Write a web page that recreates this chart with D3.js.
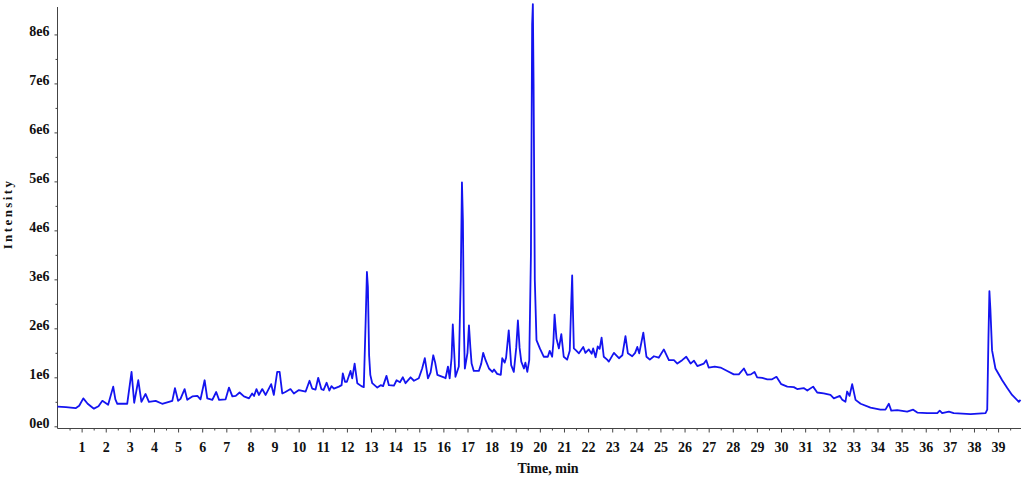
<!DOCTYPE html>
<meta charset="utf-8">
<style>
  body { margin: 0; background: #fff; }
  text { font-family: "Liberation Serif", "Times New Roman", serif; font-weight: bold; fill: #111; }
</style>
<svg width="1024" height="478"></svg>
<script src="https://d3js.org/d3.v7.min.js"></script>
<script>
// retention time (min)
const times = [
  0.00, 0.35, 0.75, 0.90, 1.07, 1.25, 1.51, 1.70, 1.86, 2.10, 2.31, 2.40, 2.48, 2.89, 3.07, 3.18, 3.35, 3.48, 3.65, 3.79,
  4.07, 4.34, 4.76, 4.87, 5.00, 5.10, 5.27, 5.38, 5.59, 5.80, 5.93, 6.10, 6.21, 6.42, 6.58, 6.70, 6.97, 7.11, 7.25, 7.39,
  7.55, 7.73, 7.94, 8.07, 8.15, 8.25, 8.35, 8.49, 8.63, 8.86, 8.97, 9.11, 9.21, 9.32, 9.45, 9.66, 9.80, 10.01, 10.29, 10.45,
  10.56, 10.70, 10.81, 10.94, 11.03, 11.16, 11.27, 11.36, 11.46, 11.67, 11.78, 11.83, 11.92, 12.00, 12.15, 12.22, 12.32, 12.43, 12.60, 12.70,
  12.78, 12.83, 12.87, 12.92, 12.97, 13.05, 13.26, 13.40, 13.50, 13.64, 13.74, 13.95, 14.06, 14.20, 14.32, 14.43, 14.64, 14.78, 14.98, 15.12,
  15.23, 15.36, 15.47, 15.58, 15.66, 15.75, 16.02, 16.09, 16.19, 16.26, 16.34, 16.39, 16.44, 16.50, 16.64, 16.72, 16.77, 16.81, 16.85, 16.89,
  17.00, 17.06, 17.12, 17.17, 17.26, 17.47, 17.57, 17.65, 17.75, 17.89, 18.03, 18.10, 18.23, 18.38, 18.44, 18.54, 18.60, 18.71, 18.81, 18.92,
  19.02, 19.09, 19.16, 19.23, 19.34, 19.40, 19.48, 19.56, 19.63, 19.68, 19.71, 19.74, 19.79, 19.86, 20.00, 20.16, 20.33, 20.41, 20.51, 20.56,
  20.61, 20.69, 20.79, 20.89, 20.99, 21.13, 21.24, 21.30, 21.34, 21.37, 21.41, 21.50, 21.62, 21.80, 21.89, 22.03, 22.15, 22.21, 22.31, 22.40,
  22.48, 22.56, 22.65, 22.79, 22.86, 23.07, 23.28, 23.42, 23.55, 23.65, 23.83, 23.95, 24.04, 24.12, 24.29, 24.42, 24.56, 24.73, 24.93, 25.14,
  25.35, 25.56, 25.70, 25.90, 26.07, 26.25, 26.39, 26.53, 26.80, 26.90, 27.00, 27.25, 27.49, 27.77, 28.04, 28.25, 28.46, 28.60, 28.75, 28.90,
  29.01, 29.22, 29.43, 29.63, 29.81, 30.01, 30.26, 30.53, 30.67, 30.94, 31.09, 31.33, 31.50, 31.77, 32.05, 32.19, 32.44, 32.54, 32.67, 32.74,
  32.84, 32.95, 33.09, 33.30, 33.71, 34.12, 34.33, 34.47, 34.57, 34.82, 35.23, 35.48, 35.65, 36.06, 36.48, 36.58, 36.68, 36.96, 37.16, 37.86,
  38.48, 38.55, 38.60, 38.64, 38.68, 38.75, 38.89, 39.17, 39.38, 39.58, 39.86, 39.93
];
// intensity, millions of counts
const intensity = [
  0.40, 0.39, 0.37, 0.42, 0.57, 0.46, 0.36, 0.41, 0.52, 0.44, 0.81, 0.55, 0.46, 0.46, 1.11, 0.48, 0.94, 0.50, 0.66, 0.50,
  0.52, 0.46, 0.52, 0.78, 0.52, 0.56, 0.76, 0.54, 0.61, 0.62, 0.55, 0.94, 0.57, 0.54, 0.70, 0.54, 0.55, 0.79, 0.61, 0.62,
  0.69, 0.61, 0.57, 0.67, 0.62, 0.76, 0.64, 0.76, 0.64, 0.86, 0.64, 1.11, 1.11, 0.67, 0.70, 0.76, 0.67, 0.74, 0.71, 0.93,
  0.77, 0.75, 0.99, 0.76, 0.74, 0.89, 0.73, 0.82, 0.77, 0.81, 0.84, 1.08, 0.91, 0.91, 1.13, 0.98, 1.28, 0.88, 0.82, 0.80,
  2.20, 3.15, 2.85, 1.45, 1.05, 0.88, 0.79, 0.84, 0.82, 1.03, 0.84, 0.83, 0.94, 0.90, 1.00, 0.88, 1.00, 0.93, 0.98, 1.18,
  1.39, 0.98, 1.10, 1.45, 1.30, 1.05, 1.00, 0.98, 1.22, 0.98, 1.40, 2.08, 1.60, 1.01, 1.22, 3.00, 4.98, 4.20, 2.00, 1.18,
  1.50, 2.06, 1.60, 1.28, 1.13, 1.13, 1.28, 1.50, 1.35, 1.18, 1.11, 1.16, 1.07, 1.05, 1.39, 1.30, 1.40, 1.96, 1.25, 1.11,
  1.60, 2.16, 1.60, 1.32, 1.18, 1.30, 1.11, 1.35, 3.50, 8.20, 8.62, 7.00, 3.00, 1.76, 1.59, 1.42, 1.42, 1.54, 1.42, 1.70,
  2.28, 1.79, 1.59, 1.88, 1.42, 1.36, 1.54, 2.50, 3.08, 2.40, 1.59, 1.55, 1.49, 1.62, 1.50, 1.57, 1.48, 1.59, 1.41, 1.63,
  1.58, 1.81, 1.42, 1.36, 1.32, 1.50, 1.39, 1.45, 1.84, 1.49, 1.43, 1.50, 1.62, 1.49, 1.91, 1.42, 1.36, 1.43, 1.40, 1.57,
  1.35, 1.35, 1.28, 1.35, 1.42, 1.28, 1.34, 1.23, 1.28, 1.35, 1.20, 1.22, 1.20, 1.13, 1.06, 1.06, 1.18, 1.05, 1.06, 1.11,
  1.00, 0.99, 0.96, 0.96, 1.01, 0.86, 0.81, 0.80, 0.76, 0.78, 0.73, 0.81, 0.69, 0.67, 0.64, 0.57, 0.62, 0.54, 0.50, 0.71,
  0.62, 0.86, 0.54, 0.46, 0.38, 0.34, 0.34, 0.46, 0.32, 0.33, 0.30, 0.34, 0.28, 0.27, 0.27, 0.32, 0.27, 0.30, 0.27, 0.25,
  0.27, 0.34, 1.80, 2.76, 2.40, 1.55, 1.18, 0.94, 0.78, 0.64, 0.50, 0.54
];
const yTicks = [0, 1e6, 2e6, 3e6, 4e6, 5e6, 6e6, 7e6, 8e6];
const yTickLabels = ["0e0", "1e6", "2e6", "3e6", "4e6", "5e6", "6e6", "7e6", "8e6"];
const xTicks = d3.range(1, 40);

const svg = d3.select("svg");
const x = d3.scaleLinear().domain([0, 39.95]).range([57.5, 1021]);
const y = d3.scaleLinear().domain([0, 8.56e6]).range([426.3, 7]);
const axisY = 428.5;

const pts = times.map((t, i) => [t, intensity[i] * 1e6]);

// axes
const gx = svg.append("g").attr("transform", `translate(0,${axisY})`);
gx.call(d3.axisBottom(x).tickValues(d3.range(0.5, 40, 0.5).filter(v => v % 1 !== 0)).tickSize(2).tickFormat(""));
gx.call(g => g.select(".domain").remove());
const gx2 = svg.append("g").attr("transform", `translate(0,${axisY})`);
gx2.call(d3.axisBottom(x).tickValues(xTicks).tickSize(4).tickPadding(9).tickFormat(d3.format("d")));
gx2.select(".domain").remove();
gx2.selectAll("text").attr("font-size", 14).attr("font-family", null).attr("dy", "0.75em");

const gy = svg.append("g").attr("transform", "translate(57.5,0)");
gy.call(d3.axisLeft(y).tickValues(d3.range(0.5e6, 8.5e6, 1e6)).tickSize(2).tickFormat(""));
gy.select(".domain").remove();
const gy2 = svg.append("g").attr("transform", "translate(57.5,0)");
gy2.call(d3.axisLeft(y).tickValues(yTicks).tickSize(3).tickPadding(5).tickFormat((d, i) => yTickLabels[i]));
gy2.select(".domain").remove();
gy2.selectAll("text").attr("font-size", 14).attr("font-family", null).attr("dy", "0.05em");

svg.selectAll(".tick line").attr("stroke", "#444");

svg.append("line").attr("x1", 57.5).attr("x2", 57.5).attr("y1", 7).attr("y2", axisY)
  .attr("stroke", "#444").attr("stroke-width", 1);
svg.append("line").attr("x1", 57.5).attr("x2", 1021).attr("y1", axisY).attr("y2", axisY)
  .attr("stroke", "#444").attr("stroke-width", 1);

// trace
svg.append("path")
  .datum(pts)
  .attr("fill", "none")
  .attr("stroke", "#1414f0")
  .attr("stroke-width", 1.8)
  .attr("stroke-linejoin", "round")
  .attr("d", d3.line().x(d => x(d[0])).y(d => y(d[1])));

// titles
svg.append("text")
  .attr("x", 548).attr("y", 473)
  .attr("text-anchor", "middle").attr("font-size", 14)
  .text("Time, min");
svg.append("text")
  .attr("transform", "translate(12,214) rotate(-90)")
  .attr("text-anchor", "middle").attr("font-size", 13)
  .attr("letter-spacing", "2.4px")
  .text("Intensity");
</script>
